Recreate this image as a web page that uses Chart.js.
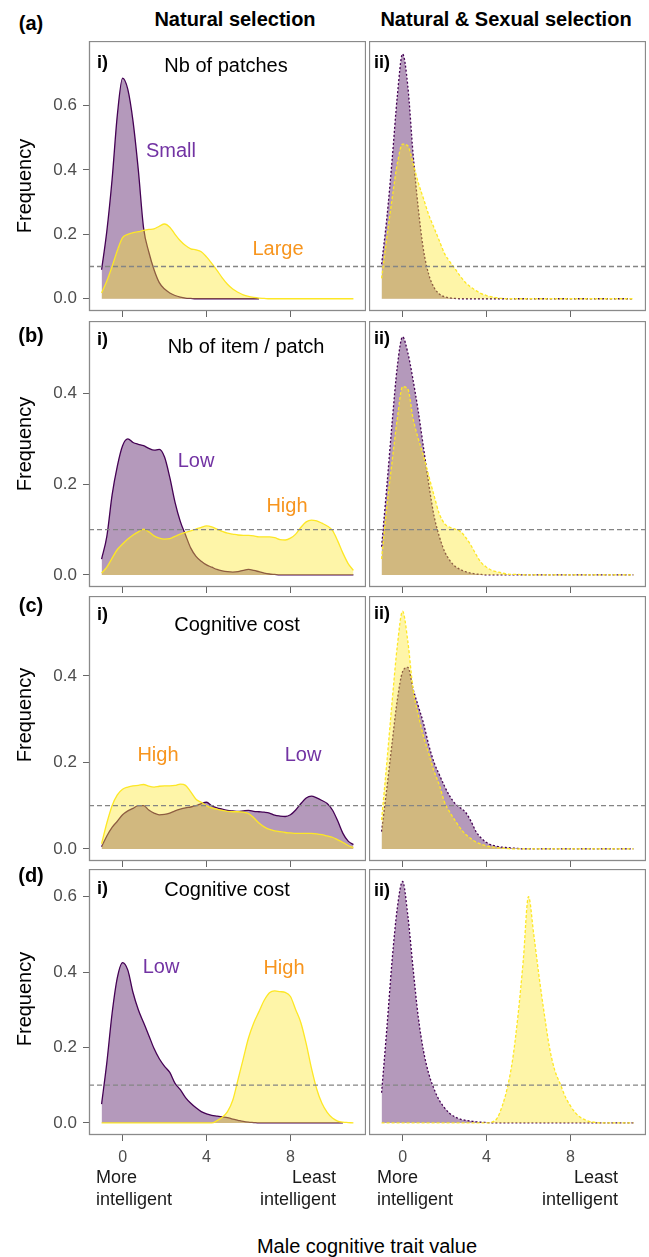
<!DOCTYPE html>
<html>
<head>
<meta charset="utf-8">
<script src="https://cdn.jsdelivr.net/npm/chart.js@4.4.1/dist/chart.umd.min.js"></script>
<style>
  body { margin: 0; background: #fff; }
  #fig { position: relative; width: 649px; height: 1257px; overflow: hidden;
         font-family: "Liberation Sans", Arial, sans-serif; color: #000; }
  #fig canvas { position: absolute; }
  .t { position: absolute; white-space: nowrap; line-height: 1; font-size: 20px;
       transform: translate(-50%, -50%); }
  .b { font-weight: bold; }
  .l { transform: translate(0, -50%); }
  .r { transform: translate(-100%, -50%); }
  .tag { font-size: 18px; font-weight: bold; }
  .pur { color: #7233a3; }
  .org { color: #f7951e; }
  .ylab { transform: translate(-50%, -50%) rotate(-90deg); }
  .note { font-size: 18px; color: #1a1a1a; }
</style>
</head>
<body>
<div id="fig">
  <canvas id="pA1"></canvas><canvas id="pA2"></canvas>
  <canvas id="pB1"></canvas><canvas id="pB2"></canvas>
  <canvas id="pC1"></canvas><canvas id="pC2"></canvas>
  <canvas id="pD1"></canvas><canvas id="pD2"></canvas>

  <div class="t b" style="left:235px;top:19px">Natural selection</div>
  <div class="t b" style="left:506px;top:19px">Natural &amp; Sexual selection</div>

  <div class="t b" style="left:31px;top:23px">(a)</div>
  <div class="t b" style="left:31px;top:335px">(b)</div>
  <div class="t b" style="left:31px;top:605px">(c)</div>
  <div class="t b" style="left:31px;top:875px">(d)</div>

  <div class="t ylab" style="left:24px;top:186px">Frequency</div>
  <div class="t ylab" style="left:24px;top:444px">Frequency</div>
  <div class="t ylab" style="left:24px;top:715px">Frequency</div>
  <div class="t ylab" style="left:24px;top:999px">Frequency</div>

  <div class="t l tag" style="left:97px;top:62px">i)</div>
  <div class="t l tag" style="left:97px;top:339px">i)</div>
  <div class="t l tag" style="left:97px;top:614px">i)</div>
  <div class="t l tag" style="left:97px;top:888px">i)</div>
  <div class="t l tag" style="left:374px;top:62px">ii)</div>
  <div class="t l tag" style="left:374px;top:338px">ii)</div>
  <div class="t l tag" style="left:374px;top:613px">ii)</div>
  <div class="t l tag" style="left:374px;top:890px">ii)</div>

  <div class="t" style="left:226px;top:65px">Nb of patches</div>
  <div class="t" style="left:246px;top:346px">Nb of item / patch</div>
  <div class="t" style="left:237px;top:624px">Cognitive cost</div>
  <div class="t" style="left:227px;top:889px">Cognitive cost</div>

  <div class="t pur" style="left:171px;top:150px">Small</div>
  <div class="t org" style="left:278px;top:248px">Large</div>
  <div class="t pur" style="left:196px;top:460px">Low</div>
  <div class="t org" style="left:287px;top:505px">High</div>
  <div class="t org" style="left:158px;top:754px">High</div>
  <div class="t pur" style="left:303px;top:754px">Low</div>
  <div class="t pur" style="left:161px;top:966px">Low</div>
  <div class="t org" style="left:284px;top:967px">High</div>

  <div class="t l note" style="left:96px;top:1177px">More</div>
  <div class="t l note" style="left:96px;top:1199px">intelligent</div>
  <div class="t r note" style="left:336px;top:1177px">Least</div>
  <div class="t r note" style="left:336px;top:1199px">intelligent</div>
  <div class="t l note" style="left:377px;top:1177px">More</div>
  <div class="t l note" style="left:377px;top:1199px">intelligent</div>
  <div class="t r note" style="left:618px;top:1177px">Least</div>
  <div class="t r note" style="left:618px;top:1199px">intelligent</div>

  <div class="t" style="left:367px;top:1246px">Male cognitive trait value</div>
</div>
<script>
// x grid of the density curves (male cognitive trait value)
const traitGrid = [-1, -0.75, -0.5, -0.25, 0, 0.25, 0.5, 0.75, 1, 1.25, 1.5, 1.75,
    2, 2.25, 2.5, 2.75, 3, 3.25, 3.5, 3.75, 4, 4.25, 4.5, 4.75,
    5, 5.25, 5.5, 5.75, 6, 6.25, 6.5, 6.75, 7, 7.25, 7.5, 7.75,
    8, 8.25, 8.5, 8.75, 9, 9.25, 9.5, 9.75, 10, 10.25, 10.5, 10.75, 11];

// tick labels
const xTicks = [0, 4, 8];
const yTicksA = [0, 0.2, 0.4, 0.6];
const yTicksB = [0, 0.2, 0.4];
const yTicksC = [0, 0.2, 0.4];
const yTicksD = [0, 0.2, 0.4, 0.6];
const refLevel = 0.1;

// (a) nb of patches
const smallPatchesNS = [0.09, 0.21, 0.37, 0.57, 0.685, 0.65, 0.55, 0.40, 0.22, 0.145, 0.09, 0.05,
    0.03, 0.018, 0.01, 0.005, 0.002, 0.001, 0, 0, 0, 0, 0, 0,
    0, 0, 0, 0, 0, 0, 0];
const largePatchesNS = [0.018, 0.055, 0.10, 0.15, 0.19, 0.20, 0.205, 0.208, 0.212, 0.215, 0.217, 0.225,
    0.232, 0.222, 0.20, 0.18, 0.165, 0.155, 0.152, 0.146, 0.13, 0.11, 0.088, 0.065,
    0.045, 0.03, 0.02, 0.012, 0.007, 0.004, 0.002, 0.001, 0, 0, 0, 0,
    0, 0, 0, 0, 0, 0, 0, 0, 0, 0, 0, 0, 0];
const smallPatchesNSS = [0.107, 0.25, 0.43, 0.63, 0.76, 0.66, 0.45, 0.28, 0.15, 0.075, 0.035, 0.015,
    0.006, 0.003, 0.001, 0, 0, 0, 0, 0, 0, 0, 0, 0,
    0, 0, 0, 0, 0, 0, 0, 0, 0, 0, 0, 0,
    0, 0, 0, 0, 0, 0, 0, 0, 0, 0, 0, 0, 0];
const largePatchesNSS = [0.063, 0.19, 0.31, 0.42, 0.48, 0.475, 0.42, 0.36, 0.31, 0.26, 0.22, 0.18,
    0.14, 0.115, 0.093, 0.07, 0.05, 0.036, 0.025, 0.016, 0.01, 0.006, 0.003, 0.001,
    0, 0, 0, 0, 0, 0, 0, 0, 0, 0, 0, 0,
    0, 0, 0, 0, 0, 0, 0, 0, 0, 0, 0, 0, 0];

// (b) nb of item / patch
const lowItemsNS = [0.035, 0.085, 0.176, 0.24, 0.285, 0.30, 0.292, 0.288, 0.285, 0.279, 0.275, 0.277,
    0.26, 0.215, 0.16, 0.118, 0.088, 0.059, 0.041, 0.03, 0.022, 0.017, 0.012, 0.009,
    0.007, 0.006, 0.007, 0.01, 0.012, 0.01, 0.007, 0.004, 0.002, 0.001, 0, 0,
    0, 0, 0, 0, 0, 0, 0, 0, 0, 0, 0, 0, 0];
const highItemsNS = [0.004, 0.017, 0.037, 0.056, 0.068, 0.079, 0.088, 0.095, 0.101, 0.095, 0.086, 0.081,
    0.079, 0.08, 0.085, 0.09, 0.094, 0.097, 0.101, 0.105, 0.108, 0.106, 0.101, 0.096,
    0.092, 0.09, 0.088, 0.087, 0.087, 0.086, 0.084, 0.084, 0.084, 0.082, 0.078, 0.077,
    0.081, 0.09, 0.105, 0.117, 0.121, 0.119, 0.114, 0.108, 0.098, 0.075, 0.048, 0.025, 0.01];
const lowItemsNSS = [0.062, 0.195, 0.335, 0.46, 0.525, 0.49, 0.43, 0.36, 0.28, 0.2, 0.13, 0.085,
    0.052, 0.032, 0.019, 0.012, 0.007, 0.004, 0.002, 0.001, 0, 0, 0, 0,
    0, 0, 0, 0, 0, 0, 0, 0, 0, 0, 0, 0,
    0, 0, 0, 0, 0, 0, 0, 0, 0, 0, 0, 0, 0];
const highItemsNSS = [0.035, 0.15, 0.25, 0.345, 0.415, 0.41, 0.345, 0.3, 0.262, 0.218, 0.175, 0.135,
    0.113, 0.105, 0.101, 0.096, 0.083, 0.066, 0.045, 0.027, 0.017, 0.01, 0.007, 0.004,
    0.002, 0.001, 0.001, 0, 0, 0, 0, 0, 0, 0, 0, 0,
    0, 0, 0, 0, 0, 0, 0, 0, 0, 0, 0, 0, 0];

// (c) cognitive cost
const lowCostNS = [0.005, 0.03, 0.05, 0.064, 0.079, 0.088, 0.094, 0.1, 0.1, 0.09, 0.083, 0.079,
    0.08, 0.083, 0.088, 0.092, 0.095, 0.097, 0.1, 0.105, 0.108, 0.1, 0.095, 0.092,
    0.089, 0.088, 0.087, 0.088, 0.089, 0.087, 0.086, 0.085, 0.083, 0.078, 0.076, 0.075,
    0.079, 0.09, 0.105, 0.118, 0.122, 0.118, 0.112, 0.105, 0.09, 0.065, 0.036, 0.018, 0.01];
const highCostNS = [0.012, 0.06, 0.1, 0.125, 0.138, 0.143, 0.146, 0.147, 0.149, 0.145, 0.143, 0.145,
    0.146, 0.146, 0.147, 0.15, 0.147, 0.132, 0.115, 0.108, 0.1, 0.095, 0.092, 0.089,
    0.087, 0.086, 0.086, 0.085, 0.082, 0.072, 0.06, 0.051, 0.045, 0.042, 0.04, 0.038,
    0.037, 0.036, 0.036, 0.036, 0.036, 0.035, 0.033, 0.03, 0.027, 0.021, 0.015, 0.008, 0.003];
const lowCostNSS = [0.04, 0.14, 0.245, 0.345, 0.41, 0.42, 0.37, 0.33, 0.29, 0.24, 0.2, 0.172,
    0.145, 0.122, 0.105, 0.095, 0.085, 0.065, 0.04, 0.025, 0.015, 0.009, 0.006, 0.004,
    0.003, 0.002, 0.001, 0, 0, 0, 0, 0, 0, 0, 0, 0,
    0, 0, 0, 0, 0, 0, 0, 0, 0, 0, 0, 0, 0];
const highCostNSS = [0.067, 0.2, 0.34, 0.47, 0.55, 0.48, 0.37, 0.31, 0.26, 0.22, 0.18, 0.148,
    0.108, 0.085, 0.066, 0.048, 0.034, 0.024, 0.016, 0.011, 0.007, 0.005, 0.003, 0.002,
    0.001, 0, 0, 0, 0, 0, 0, 0, 0, 0, 0, 0,
    0, 0, 0, 0, 0, 0, 0, 0, 0, 0, 0, 0, 0];

// (d) cognitive cost
const lowCostNS_d = [0.05, 0.16, 0.29, 0.385, 0.425, 0.405, 0.345, 0.3, 0.266, 0.232, 0.197, 0.17,
    0.15, 0.134, 0.105, 0.088, 0.067, 0.052, 0.04, 0.03, 0.024, 0.02, 0.018, 0.016,
    0.014, 0.01, 0.007, 0.004, 0.002, 0.001, 0, 0, 0, 0, 0, 0,
    0, 0, 0, 0, 0, 0, 0, 0, 0, 0, 0];
const highCostNS_d = [0, 0, 0, 0, 0, 0, 0, 0, 0, 0, 0, 0,
    0, 0, 0, 0, 0, 0, 0, 0, 0, 0, 0.006, 0.015,
    0.03, 0.06, 0.115, 0.17, 0.225, 0.265, 0.295, 0.325, 0.345, 0.35, 0.348, 0.346,
    0.335, 0.3, 0.265, 0.21, 0.145, 0.09, 0.052, 0.028, 0.013, 0.005, 0.002, 0.001, 0];
const lowCostNSS_d = [0.08, 0.25, 0.43, 0.57, 0.64, 0.55, 0.41, 0.28, 0.19, 0.13, 0.09, 0.06,
    0.04, 0.025, 0.016, 0.01, 0.007, 0.005, 0.003, 0.002, 0.001, 0, 0, 0,
    0, 0, 0, 0, 0, 0, 0, 0, 0, 0, 0, 0,
    0, 0, 0, 0, 0, 0, 0, 0, 0, 0, 0, 0, 0];
const highCostNSS_d = [0, 0, 0, 0, 0, 0, 0, 0, 0, 0, 0, 0,
    0, 0, 0, 0, 0, 0, 0, 0, 0, 0.002, 0.012, 0.045,
    0.095, 0.17, 0.285, 0.43, 0.6, 0.5, 0.39, 0.29, 0.2, 0.14, 0.105, 0.07,
    0.045, 0.026, 0.014, 0.007, 0.003, 0.001, 0, 0, 0, 0, 0, 0, 0];

// layout of the 4 rows of panels
const rowTop = [41, 321, 596, 869];
const rowHeight = [270, 266, 265, 266];
const yRange = [[-0.0381, 0.8002], [-0.0267, 0.56], [-0.0279, 0.585], [-0.032, 0.673]];
const yTickSets = [yTicksA, yTicksB, yTicksC, yTicksD];

Chart.defaults.font.family = '"Liberation Sans", Arial, sans-serif';

// grey frame round each panel
const panelBox = {
    id: 'panelBox',
    afterDraw(chart) {
        const a = chart.chartArea;
        const ctx = chart.ctx;
        ctx.save();
        ctx.strokeStyle = '#8a8a8a';
        ctx.lineWidth = 1.3;
        ctx.strokeRect(a.left + 0.5, a.top + 0.5, a.right - a.left - 1, a.bottom - a.top - 1);
        ctx.restore();
    }
};

function toPoints(values) {
    return values.map((v, i) => ({ x: traitGrid[i], y: v }));
}

function makePanel(id, row, col, purple, yellow) {
    const cv = document.getElementById(id);
    const bottomRow = row == 3;
    const axisH = bottomRow ? 34 : 12;
    const axisW = col == 0 ? 89 : 0;
    cv.width = col == 0 ? 366 : 277;
    cv.height = rowHeight[row] + axisH;
    cv.style.left = (col == 0 ? 0 : 369) + 'px';
    cv.style.top = rowTop[row] + 'px';
    const dotted = col == 1;

    return new Chart(cv, {
        type: 'line',
        data: {
            datasets: [{
                data: [{ x: -1.6, y: refLevel }, { x: 11.6, y: refLevel }],
                borderColor: '#858585',
                borderWidth: 1.3,
                borderDash: [5, 3],
                pointRadius: 0,
                fill: false
            }, {
                data: toPoints(yellow),
                borderColor: '#fde725',
                backgroundColor: 'rgba(253, 231, 37, 0.4)',
                borderWidth: 1.3,
                borderDash: dotted ? [3, 2] : [],
                pointRadius: 0,
                fill: 'origin',
                cubicInterpolationMode: 'monotone'
            }, {
                data: toPoints(purple),
                borderColor: '#440154',
                backgroundColor: 'rgba(68, 1, 84, 0.4)',
                borderWidth: 1.3,
                borderDash: dotted ? [2, 2] : [],
                pointRadius: 0,
                fill: 'origin',
                cubicInterpolationMode: 'monotone'
            }]
        },
        options: {
            responsive: false,
            animation: false,
            devicePixelRatio: 1,
            layout: { padding: 0, autoPadding: false },
            plugins: { legend: { display: false }, tooltip: { enabled: false } },
            scales: {
                x: {
                    type: 'linear',
                    min: -1.6,
                    max: 11.6,
                    afterBuildTicks: (s) => { s.ticks = xTicks.map(v => ({ value: v })); },
                    afterFit: (s) => { s.height = axisH; s.paddingLeft = 0; s.paddingRight = 0; },
                    ticks: { display: bottomRow, color: '#4d4d4d', font: { size: 16 }, padding: 7, maxRotation: 0, autoSkip: false },
                    grid: { drawOnChartArea: false, tickLength: 6, color: '#666', lineWidth: 1 },
                    border: { display: false }
                },
                y: {
                    display: col == 0,
                    min: yRange[row][0],
                    max: yRange[row][1],
                    afterBuildTicks: (s) => { s.ticks = yTickSets[row].map(v => ({ value: v })); },
                    afterFit: (s) => { s.width = axisW; s.paddingTop = 0; s.paddingBottom = 0; },
                    ticks: { color: '#4d4d4d', font: { size: 17 }, padding: 6, callback: (v) => v.toFixed(1) },
                    grid: { drawOnChartArea: false, tickLength: 6, color: '#666', lineWidth: 1 },
                    border: { display: false }
                }
            }
        },
        plugins: [panelBox]
    });
}

makePanel('pA1', 0, 0, smallPatchesNS, largePatchesNS);
makePanel('pA2', 0, 1, smallPatchesNSS, largePatchesNSS);
makePanel('pB1', 1, 0, lowItemsNS, highItemsNS);
makePanel('pB2', 1, 1, lowItemsNSS, highItemsNSS);
makePanel('pC1', 2, 0, lowCostNS, highCostNS);
makePanel('pC2', 2, 1, lowCostNSS, highCostNSS);
makePanel('pD1', 3, 0, lowCostNS_d, highCostNS_d);
makePanel('pD2', 3, 1, lowCostNSS_d, highCostNSS_d);
</script>
</body>
</html>
